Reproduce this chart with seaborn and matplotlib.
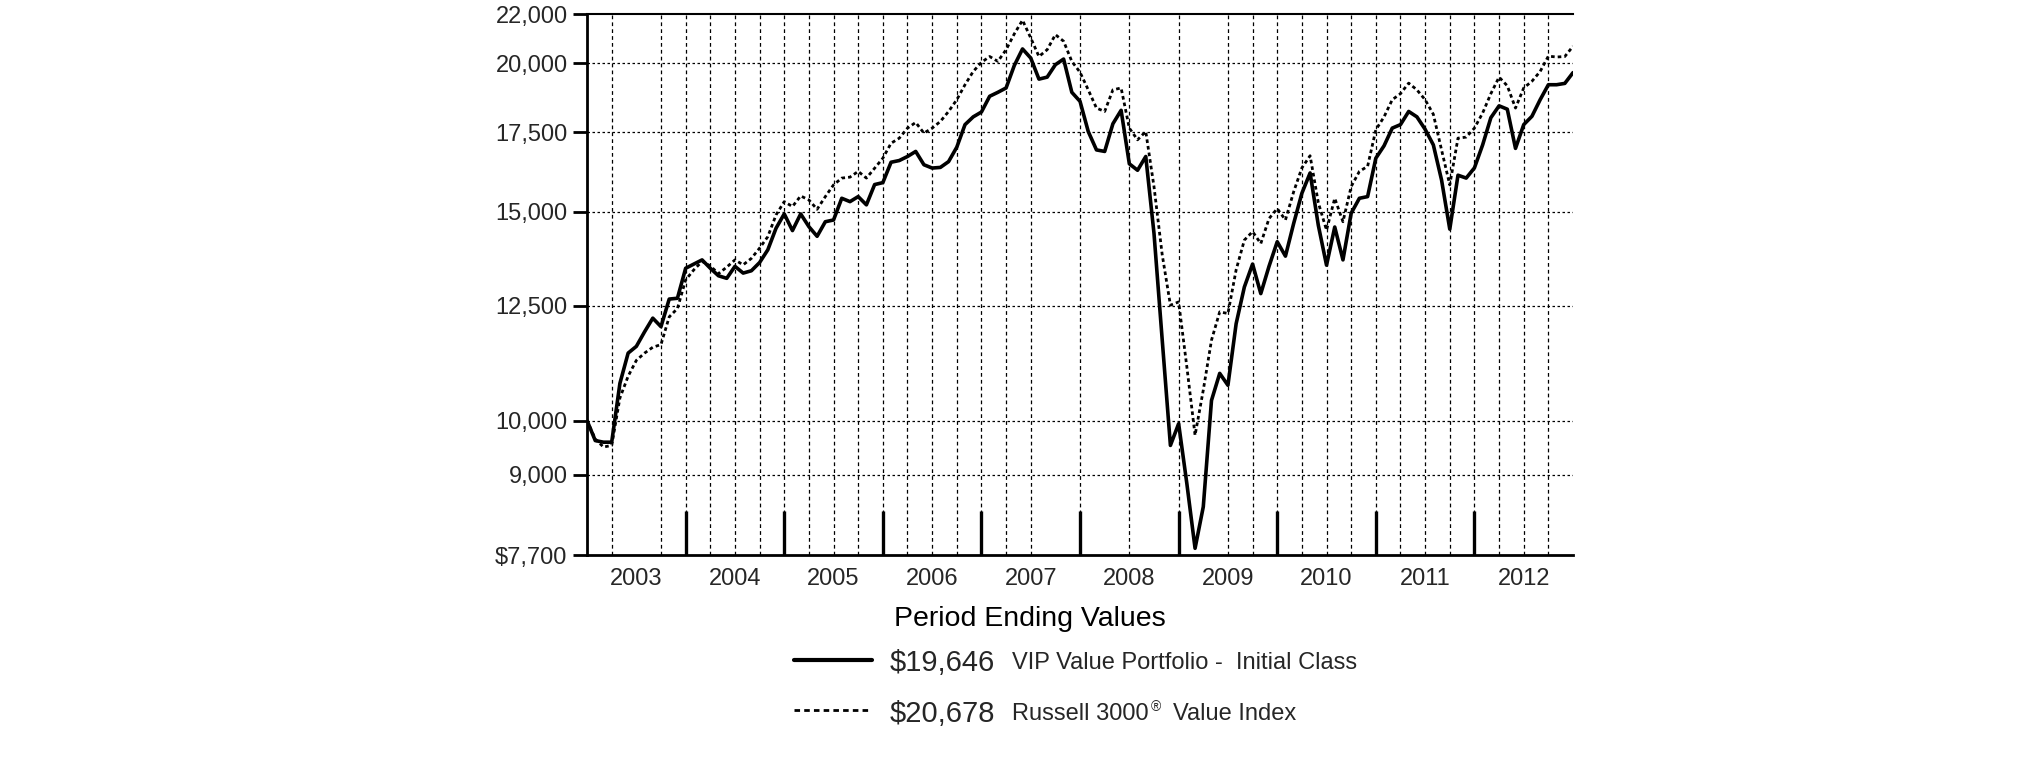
import numpy as np
import pandas as pd
import matplotlib
matplotlib.use("Agg")
import matplotlib.pyplot as plt
from matplotlib.lines import Line2D
import seaborn as sns

# Valores mensais (dez/2002 a dez/2012), hipotético de $10.000
vip_value = [
    10000, 9620, 9590, 9590, 10750, 11400, 11550, 11880, 12200, 12000, 12660, 12680,
    13440, 13550, 13660, 13440, 13245, 13180, 13490, 13315, 13375, 13590, 13930, 14525,
    14935, 14460, 14935, 14570, 14300, 14710, 14760, 15395, 15295, 15445, 15200, 15810,
    15870, 16510, 16565, 16695, 16860, 16430, 16325, 16345, 16530, 17000, 17760, 18030,
    18200, 18765, 18910, 19070, 19920, 20570, 20210, 19400, 19475, 19950, 20170, 18910,
    18580, 17525, 16910, 16860, 17790, 18260, 16460, 16255, 16695, 14385, 11700, 9530,
    9940, 8850, 7805, 8460, 10400, 10960, 10710, 12070, 12960, 13550, 12795, 13490,
    14150, 13760, 14660, 15545, 16170, 14610, 13520, 14560, 13660, 14955, 15395, 15445,
    16640, 17045, 17640, 17760, 18220, 18030, 17600, 17075, 15950, 14500, 16100, 16010,
    16330, 17075, 18000, 18420, 18300, 16960, 17760, 18050, 18640, 19190, 19190, 19240,
    19646,
]
russell_value = [
    10000, 9650, 9500, 9530, 10450, 10900, 11240, 11400, 11530, 11590, 12230, 12430,
    13140, 13400, 13620, 13500, 13300, 13470, 13660, 13530, 13700, 13975, 14290, 14905,
    15295, 15150, 15465, 15345, 15070, 15445, 15800, 16010, 16040, 16220, 16010, 16320,
    16640, 17130, 17300, 17640, 17835, 17470, 17640, 17870, 18220, 18640, 19190, 19690,
    20040, 20270, 20080, 20540, 21180, 21750, 21015, 20270, 20540, 21150, 20880, 20080,
    19660, 19000, 18340, 18220, 19000, 19070, 17640, 17245, 17525, 15750, 13800, 12510,
    12590, 11100, 9720, 10610, 11690, 12350, 12310, 13400, 14195, 14430, 14100, 14800,
    15090, 14760, 15590, 16330, 16720, 15265, 14470, 15395, 14710, 15750, 16220, 16380,
    17580, 18030, 18640, 18860, 19250, 19000, 18640, 18120, 16910, 15800, 17300, 17335,
    17640, 18165, 18860, 19475, 19150, 18340, 19070, 19320, 19690, 20285, 20250, 20270,
    20678,
]
anos = ["2003", "2004", "2005", "2006", "2007", "2008", "2009", "2010", "2011", "2012"]
y_ticks = [7700, 9000, 10000, 12500, 15000, 17500, 20000, 22000]
y_labels = ["$7,700", "9,000", "10,000", "12,500", "15,000", "17,500", "20,000", "22,000"]
# meses (a partir de dez/2002) com linha de grade vertical
grade_meses = [3, 9, 12, 15, 18, 21, 24, 27, 30, 33, 36, 39, 42, 45, 48, 51, 54, 60,
               66, 72, 78, 81, 84, 87, 90, 93, 96, 99, 102, 105, 108, 111, 114, 117]

df = pd.DataFrame({
    "mes": np.arange(len(vip_value)),
    "vip": vip_value,
    "russell": russell_value,
})

sns.set_theme(style="white")
plt.rcParams["font.family"] = ["Liberation Sans", "DejaVu Sans"]

fig = plt.figure(figsize=(20.25, 7.61), dpi=100)
ax = fig.add_axes([0.2899, 0.2703, 0.4869, 0.7109])

# grade
for m in grade_meses:
    ax.axvline(m, color="black", lw=0.9, ls=(0, (3, 2.5)), zorder=1)
for v in y_ticks[1:-1]:
    ax.axhline(v, color="black", lw=0.9, ls=(0, (2, 2)), zorder=1)

sns.lineplot(data=df, x="mes", y="russell", ax=ax, color="black", lw=2.0,
             linestyle=(0, (1.3, 1.1)), zorder=3)
sns.lineplot(data=df, x="mes", y="vip", ax=ax, color="black", lw=2.6, zorder=4)

ax.set_yscale("log")
ax.set_ylim(7700, 22000)
ax.set_xlim(0, 120)
ax.yaxis.set_major_locator(matplotlib.ticker.FixedLocator(y_ticks))
ax.yaxis.set_major_formatter(matplotlib.ticker.FixedFormatter(y_labels))
ax.yaxis.set_minor_locator(matplotlib.ticker.NullLocator())
ax.tick_params(axis="y", which="major", direction="out", length=10, width=2,
               labelsize=17, pad=4, color="black", left=True)

# ticks dos anos (divisórias) e rótulos no centro de cada ano
ax.set_xticks(np.arange(12, 120, 12))
ax.set_xticklabels([])
ax.set_xticks(np.arange(6, 120, 12), minor=True)
ax.set_xticklabels(anos, minor=True)
ax.tick_params(axis="x", which="major", direction="in", length=32, width=2.4,
               color="black", bottom=True)
ax.tick_params(axis="x", which="minor", length=0, labelsize=17, pad=9)

ax.set_xlabel("")
ax.set_ylabel("")
ax.grid(False)
for lado in ["left", "bottom"]:
    ax.spines[lado].set_color("black")
    ax.spines[lado].set_linewidth(2)
ax.spines["top"].set_color("black")
ax.spines["top"].set_linewidth(1.5)
ax.spines["right"].set_visible(False)

# legenda
W, H = 2025, 761
fig.text(1030 / W, 1 - 619 / H, "Period Ending Values", ha="center", va="center",
         fontsize=20.5, color="black")
fig.add_artist(Line2D([794 / W, 872 / W], [1 - 660 / H] * 2, color="black", lw=3))
fig.add_artist(Line2D([794 / W, 870 / W], [1 - 710 / H] * 2, color="black", lw=2,
                      ls=(0, (2, 1.5))))
fig.text(890 / W, 1 - 663 / H, "$19,646", ha="left", va="center", fontsize=21)
fig.text(1012 / W, 1 - 663 / H, "VIP Value Portfolio -  Initial Class", ha="left",
         va="center", fontsize=17)
fig.text(890 / W, 1 - 714 / H, "$20,678", ha="left", va="center", fontsize=21)
t_russell = fig.text(1012 / W, 1 - 714 / H, "Russell 3000", ha="left", va="center",
                     fontsize=17)

# posiciona o ® logo após o texto
renderer = fig.canvas.get_renderer()
bb = t_russell.get_window_extent(renderer)
t_reg = fig.text((bb.x1 + 2) / W, 1 - 707 / H, "®", ha="left", va="center", fontsize=10)
bb2 = t_reg.get_window_extent(renderer)
fig.text((bb2.x1 + 12) / W, 1 - 714 / H, "Value Index", ha="left", va="center",
         fontsize=17)

plt.savefig("out.png", dpi=100)
plt.close()
